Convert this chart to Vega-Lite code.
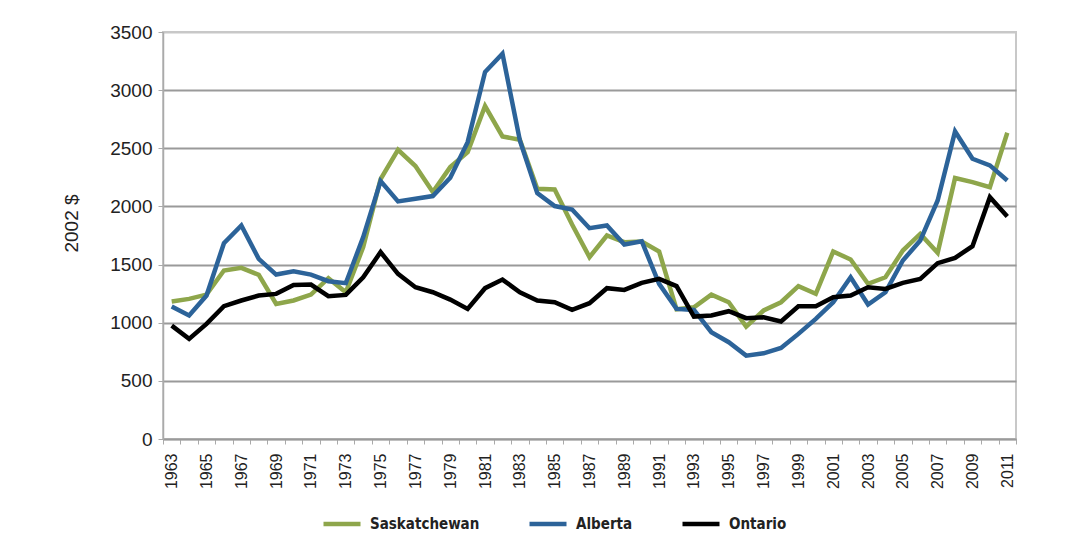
{
"$schema": "https://vega.github.io/schema/vega-lite/v6.json",
"width": 853,
"height": 407,
"autosize": {"type": "none"},
"padding": {"left": 163, "top": 32, "right": 55, "bottom": 113},
"background": "white",
"config": {"view": {"stroke": "#c8c8c8", "strokeWidth": 2}, "font": "Liberation Sans"},
"data": {"values": [
{"year":1963,"province":"Saskatchewan","value":1182},
{"year":1964,"province":"Saskatchewan","value":1205},
{"year":1965,"province":"Saskatchewan","value":1242},
{"year":1966,"province":"Saskatchewan","value":1449},
{"year":1967,"province":"Saskatchewan","value":1472},
{"year":1968,"province":"Saskatchewan","value":1412},
{"year":1969,"province":"Saskatchewan","value":1162},
{"year":1970,"province":"Saskatchewan","value":1191},
{"year":1971,"province":"Saskatchewan","value":1242},
{"year":1972,"province":"Saskatchewan","value":1383},
{"year":1973,"province":"Saskatchewan","value":1262},
{"year":1974,"province":"Saskatchewan","value":1650},
{"year":1975,"province":"Saskatchewan","value":2235},
{"year":1976,"province":"Saskatchewan","value":2487},
{"year":1977,"province":"Saskatchewan","value":2347},
{"year":1978,"province":"Saskatchewan","value":2123},
{"year":1979,"province":"Saskatchewan","value":2338},
{"year":1980,"province":"Saskatchewan","value":2467},
{"year":1981,"province":"Saskatchewan","value":2863},
{"year":1982,"province":"Saskatchewan","value":2602},
{"year":1983,"province":"Saskatchewan","value":2573},
{"year":1984,"province":"Saskatchewan","value":2152},
{"year":1985,"province":"Saskatchewan","value":2146},
{"year":1986,"province":"Saskatchewan","value":1845},
{"year":1987,"province":"Saskatchewan","value":1564},
{"year":1988,"province":"Saskatchewan","value":1750},
{"year":1989,"province":"Saskatchewan","value":1693},
{"year":1990,"province":"Saskatchewan","value":1698},
{"year":1991,"province":"Saskatchewan","value":1612},
{"year":1992,"province":"Saskatchewan","value":1115},
{"year":1993,"province":"Saskatchewan","value":1133},
{"year":1994,"province":"Saskatchewan","value":1242},
{"year":1995,"province":"Saskatchewan","value":1176},
{"year":1996,"province":"Saskatchewan","value":967},
{"year":1997,"province":"Saskatchewan","value":1105},
{"year":1998,"province":"Saskatchewan","value":1176},
{"year":1999,"province":"Saskatchewan","value":1314},
{"year":2000,"province":"Saskatchewan","value":1248},
{"year":2001,"province":"Saskatchewan","value":1612},
{"year":2002,"province":"Saskatchewan","value":1544},
{"year":2003,"province":"Saskatchewan","value":1334},
{"year":2004,"province":"Saskatchewan","value":1391},
{"year":2005,"province":"Saskatchewan","value":1621},
{"year":2006,"province":"Saskatchewan","value":1764},
{"year":2007,"province":"Saskatchewan","value":1601},
{"year":2008,"province":"Saskatchewan","value":2244},
{"year":2009,"province":"Saskatchewan","value":2209},
{"year":2010,"province":"Saskatchewan","value":2166},
{"year":2011,"province":"Saskatchewan","value":2634},
{"year":1963,"province":"Alberta","value":1139},
{"year":1964,"province":"Alberta","value":1062},
{"year":1965,"province":"Alberta","value":1234},
{"year":1966,"province":"Alberta","value":1684},
{"year":1967,"province":"Alberta","value":1836},
{"year":1968,"province":"Alberta","value":1549},
{"year":1969,"province":"Alberta","value":1414},
{"year":1970,"province":"Alberta","value":1443},
{"year":1971,"province":"Alberta","value":1414},
{"year":1972,"province":"Alberta","value":1357},
{"year":1973,"province":"Alberta","value":1340},
{"year":1974,"province":"Alberta","value":1736},
{"year":1975,"province":"Alberta","value":2218},
{"year":1976,"province":"Alberta","value":2043},
{"year":1977,"province":"Alberta","value":2066},
{"year":1978,"province":"Alberta","value":2089},
{"year":1979,"province":"Alberta","value":2246},
{"year":1980,"province":"Alberta","value":2553},
{"year":1981,"province":"Alberta","value":3156},
{"year":1982,"province":"Alberta","value":3314},
{"year":1983,"province":"Alberta","value":2568},
{"year":1984,"province":"Alberta","value":2114},
{"year":1985,"province":"Alberta","value":2003},
{"year":1986,"province":"Alberta","value":1974},
{"year":1987,"province":"Alberta","value":1813},
{"year":1988,"province":"Alberta","value":1836},
{"year":1989,"province":"Alberta","value":1673},
{"year":1990,"province":"Alberta","value":1701},
{"year":1991,"province":"Alberta","value":1334},
{"year":1992,"province":"Alberta","value":1119},
{"year":1993,"province":"Alberta","value":1110},
{"year":1994,"province":"Alberta","value":918},
{"year":1995,"province":"Alberta","value":832},
{"year":1996,"province":"Alberta","value":717},
{"year":1997,"province":"Alberta","value":737},
{"year":1998,"province":"Alberta","value":783},
{"year":1999,"province":"Alberta","value":904},
{"year":2000,"province":"Alberta","value":1033},
{"year":2001,"province":"Alberta","value":1176},
{"year":2002,"province":"Alberta","value":1391},
{"year":2003,"province":"Alberta","value":1156},
{"year":2004,"province":"Alberta","value":1262},
{"year":2005,"province":"Alberta","value":1535},
{"year":2006,"province":"Alberta","value":1707},
{"year":2007,"province":"Alberta","value":2051},
{"year":2008,"province":"Alberta","value":2645},
{"year":2009,"province":"Alberta","value":2410},
{"year":2010,"province":"Alberta","value":2353},
{"year":2011,"province":"Alberta","value":2223},
{"year":1963,"province":"Ontario","value":975},
{"year":1964,"province":"Ontario","value":861},
{"year":1965,"province":"Ontario","value":990},
{"year":1966,"province":"Ontario","value":1142},
{"year":1967,"province":"Ontario","value":1191},
{"year":1968,"province":"Ontario","value":1234},
{"year":1969,"province":"Ontario","value":1248},
{"year":1970,"province":"Ontario","value":1325},
{"year":1971,"province":"Ontario","value":1328},
{"year":1972,"province":"Ontario","value":1228},
{"year":1973,"province":"Ontario","value":1239},
{"year":1974,"province":"Ontario","value":1391},
{"year":1975,"province":"Ontario","value":1607},
{"year":1976,"province":"Ontario","value":1420},
{"year":1977,"province":"Ontario","value":1305},
{"year":1978,"province":"Ontario","value":1262},
{"year":1979,"province":"Ontario","value":1199},
{"year":1980,"province":"Ontario","value":1119},
{"year":1981,"province":"Ontario","value":1297},
{"year":1982,"province":"Ontario","value":1371},
{"year":1983,"province":"Ontario","value":1262},
{"year":1984,"province":"Ontario","value":1191},
{"year":1985,"province":"Ontario","value":1176},
{"year":1986,"province":"Ontario","value":1110},
{"year":1987,"province":"Ontario","value":1168},
{"year":1988,"province":"Ontario","value":1297},
{"year":1989,"province":"Ontario","value":1282},
{"year":1990,"province":"Ontario","value":1343},
{"year":1991,"province":"Ontario","value":1377},
{"year":1992,"province":"Ontario","value":1315},
{"year":1993,"province":"Ontario","value":1053},
{"year":1994,"province":"Ontario","value":1062},
{"year":1995,"province":"Ontario","value":1099},
{"year":1996,"province":"Ontario","value":1039},
{"year":1997,"province":"Ontario","value":1047},
{"year":1998,"province":"Ontario","value":1010},
{"year":1999,"province":"Ontario","value":1142},
{"year":2000,"province":"Ontario","value":1142},
{"year":2001,"province":"Ontario","value":1219},
{"year":2002,"province":"Ontario","value":1234},
{"year":2003,"province":"Ontario","value":1305},
{"year":2004,"province":"Ontario","value":1291},
{"year":2005,"province":"Ontario","value":1343},
{"year":2006,"province":"Ontario","value":1377},
{"year":2007,"province":"Ontario","value":1512},
{"year":2008,"province":"Ontario","value":1558},
{"year":2009,"province":"Ontario","value":1658},
{"year":2010,"province":"Ontario","value":2080},
{"year":2011,"province":"Ontario","value":1914}
]},
"mark": {"type": "line", "strokeWidth": 4.5},
"encoding": {
  "x": {
    "field": "year", "type": "ordinal",
    "scale": {"type": "band", "paddingInner": 0, "paddingOuter": 0},
    "axis": {
      "title": null, "labelAngle": -90,
      "labelExpr": "(datum.value - 1963) % 2 == 0 ? datum.label : ''",
      "labelOverlap": false, "tickBand": "extent", "tickSize": 5,
      "tickColor": "#aaaaaa", "domainColor": "#9a9a9a", "domainWidth": 1.5,
      "labelFontSize": 16, "labelColor": "#222222", "labelPadding": 9, "grid": false
    }
  },
  "y": {
    "field": "value", "type": "quantitative",
    "scale": {"domain": [0, 3500], "nice": false},
    "axis": {
      "title": "2002 $", "values": [0, 500, 1000, 1500, 2000, 2500, 3000, 3500], "format": "d",
      "tickSize": 5, "labelPadding": 6, "labelFontSize": 19, "labelColor": "#222222",
      "titleFontSize": 19, "titleFontWeight": "normal", "titleColor": "#222222",
      "titlePadding": 28, "titleY": 191,
      "gridColor": {"condition": {"test": "datum.value == 3500", "value": "#c8c8c8"}, "value": "#9a9a9a"},
      "gridWidth": 2, "domainColor": "#aaaaaa", "tickColor": "#aaaaaa", "domainWidth": 1.5
    }
  },
  "color": {
    "field": "province", "type": "nominal",
    "scale": {"domain": ["Saskatchewan", "Alberta", "Ontario"], "range": ["#8ea64b", "#2c6399", "#000000"]},
    "legend": {
      "orient": "none", "legendX": 158, "legendY": 471, "direction": "horizontal",
      "title": null, "symbolType": "stroke", "symbolSize": 1369, "symbolStrokeWidth": 4.5,
      "labelFont": "DejaVu Sans Condensed", "labelFontWeight": "bold", "labelFontSize": 15,
      "labelColor": "#222222", "labelOffset": 7, "columnPadding": 40, "padding": 0
    }
  }
}
}
